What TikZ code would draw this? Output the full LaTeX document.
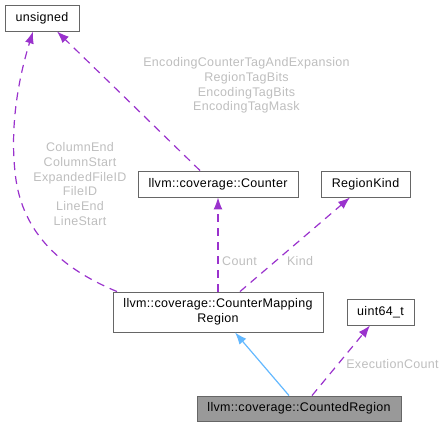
\documentclass[tikz,border=0pt]{standalone}
\usepackage{fontspec}
\setmainfont{Liberation Sans}[LetterSpace=2.5]
\usetikzlibrary{arrows.meta}
\definecolor{mypurple}{HTML}{9A32CD}
\definecolor{myblue}{HTML}{63B8FF}
\definecolor{mygray}{HTML}{666666}
\definecolor{mylabel}{HTML}{BEBEBE}
\definecolor{myfill}{HTML}{999999}

\begin{document}
\begin{tikzpicture}[x=1pt, y=-1pt, font=\fontsize{12.5}{14.8}\selectfont,
  box/.style={draw=mygray, line width=0.9pt, inner sep=0pt, align=center},
  usage/.style={draw=mypurple, line width=1.2pt, dash pattern=on 8pt off 6pt, -{Latex[length=12pt,width=9pt]}},
  inherit/.style={draw=myblue, line width=1.2pt, -{Latex[length=12pt,width=9pt]}},
  lbl/.style={text=mylabel, align=center, inner sep=0pt}]

\useasboundingbox (0,0) rectangle (444,427);

% classes
\node[box, minimum width=74pt, minimum height=26pt] (unsigned) at (42,18) {unsigned};
\node[box, minimum width=160pt, minimum height=26pt] (counter) at (218,184) {llvm::coverage::Counter};
\node[box, minimum width=89pt, minimum height=26pt] (kind) at (365.5,184) {RegionKind};
\node[box, minimum width=210pt, minimum height=40pt] (cmr) at (218,312) {llvm::coverage::CounterMapping\\Region};
\node[box, minimum width=67pt, minimum height=26pt] (uint) at (380.5,312) {uint64\_t};
\node[box, fill=myfill, minimum width=204pt, minimum height=25pt] (counted) at (299,408.5) {llvm::coverage::CountedRegion};

% members
\draw[usage] ([xshift=-101pt]cmr.north) .. controls (70,272) and (25,240) .. (16,180)
  .. controls (9,130) and (18,80) .. ([xshift=-9pt]unsigned.south);
\draw[usage] ([xshift=-18pt]counter.north) -- ([xshift=15pt]unsigned.south);
\draw[usage] (cmr.north) -- (counter.south);
\draw[usage] ([xshift=22pt]cmr.north) -- ([xshift=-15.5pt]kind.south);
\draw[usage] ([xshift=13pt]counted.north) -- ([xshift=-10.5pt]uint.south);

% base class
\draw[inherit] ([xshift=-10pt]counted.north) -- ([xshift=17pt]cmr.south);

% labels
\node[lbl] (lcols) at (80,184) {ColumnEnd\\ColumnStart\\ExpandedFileID\\FileID\\LineEnd\\LineStart};
\node[lbl] (lenc) at (246.5,85.5) {EncodingCounterTagAndExpansion\\RegionTagBits\\EncodingTagBits\\EncodingTagMask};
\node[lbl] (lcount) at (239.5,261) {Count};
\node[lbl] (lkind) at (300,261) {Kind};
\node[lbl] (lexec) at (392.5,364) {ExecutionCount};

\end{tikzpicture}
\end{document}
